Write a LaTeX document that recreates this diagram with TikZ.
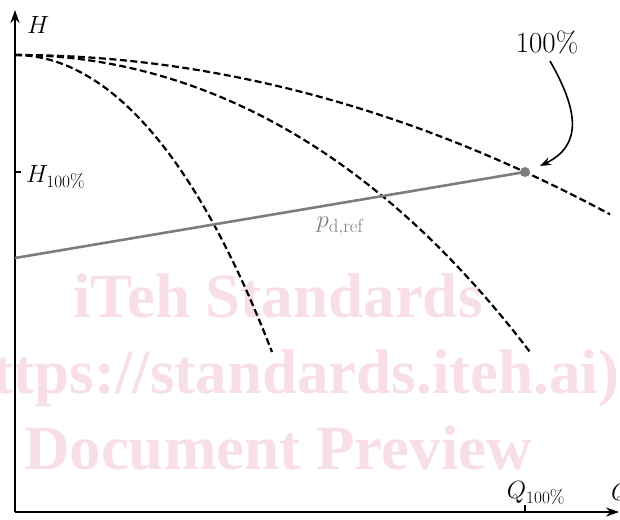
\documentclass[tikz,border=0pt]{standalone}
\usepackage{fontspec}
\newfontfamily\wmfont{Liberation Serif}
\usetikzlibrary{arrows.meta}
\definecolor{wmpink}{RGB}{248,222,230}
\definecolor{refgray}{RGB}{125,125,125}
\begin{document}
\begin{tikzpicture}[x=1pt,y=-1pt,
  lbl/.style={inner sep=0pt,font=\fontsize{27}{31}\selectfont},
  axisline/.style={line width=2.4pt,-{Stealth[length=13pt,width=9pt]}},
  dcurve/.style={line width=2.2pt,dash pattern=on 7pt off 3.5pt},
  wm/.style={text=wmpink,font=\wmfont\bfseries\fontsize{63}{70}\selectfont,anchor=base,inner sep=0pt},
  tickline/.style={line width=1.6pt}]
\useasboundingbox (0,0) rectangle (620,519);
% watermark
\node[wm] (w1) at (278,317) {iTeh Standards};
\node[wm] (w2) at (278,393) {(https://standards.iteh.ai)};
\node[wm] (w3) at (278,469) {Document Preview};
% axes
\coordinate (O) at (15,512);
\coordinate (Ytop) at (15,10);
\coordinate (Xend) at (619,512);
\draw[axisline] (O) -- (Ytop);
\draw[axisline] (O) -- (Xend);
\node[lbl,anchor=west] (H) at (27,25) {$H$};
\node[lbl,anchor=west] (Q) at (611,494) {$Q$};
% ticks
\coordinate (Ht) at (15,172);
\draw[tickline] (Ht) -- ++(6,0);
\node[lbl,anchor=west] (H100) at (26,177) {$H_{100\%}$};
\coordinate (Qt) at (525,512);
\draw[tickline] (Qt) -- ++(0,-7);
\node[lbl,anchor=south] (Q100) at (536,505) {$Q_{100\%}$};
% curves (t = (x-15)/100)
\coordinate (S) at (15,55);
\draw[dcurve] (S) plot[domain=15:610,samples=80] (\x,{55+4.5*((\x-15)/100)^2});
\draw[dcurve] (S) plot[domain=15:530,samples=80] (\x,{55+9.68*((\x-15)/100)^2+0.05726*((\x-15)/100)^4});
\draw[dcurve] (S) plot[domain=15:272,samples=60] (\x,{55+39.7*((\x-15)/100)^2+0.797*((\x-15)/100)^4});
% reference line
\coordinate (P) at (525,172);
\coordinate (L) at (15,258);
\draw[refgray,line width=2.6pt] (L) -- (P);
\fill[refgray] (P) circle (5);
\node[lbl,text=refgray] (pd) at (340,226) {$p_{\mathrm{d,ref}}$};
% 100% label and arrow
\node[lbl,font=\fontsize{29}{33}\selectfont] (lab) at (547,42) {100\%};
\coordinate (tip) at (540,166);
\draw[line width=1.6pt,-{Stealth[length=11pt,width=8pt]}] (550,61) .. controls (578,110) and (583,145) .. (tip);
\end{tikzpicture}
\end{document}
